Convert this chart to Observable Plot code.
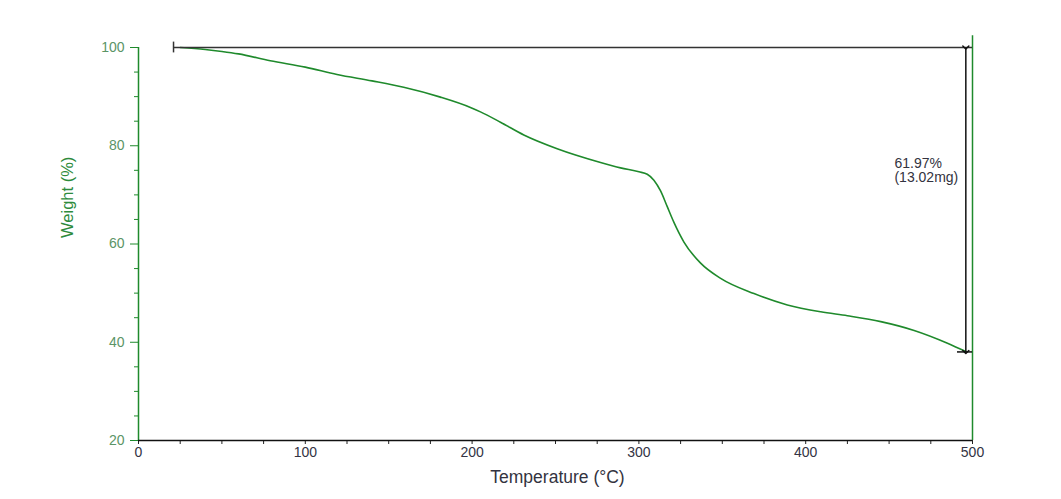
<!DOCTYPE html>
<html>
<head>
<meta charset="utf-8">
<script src="https://cdn.jsdelivr.net/npm/d3@7"></script>
<script src="https://cdn.jsdelivr.net/npm/@observablehq/plot@0.6"></script>
<style>
  html, body { margin: 0; padding: 0; background: #fff; }
</style>
</head>
<body>
<div id="chart"></div>
<script>
// Data
const temps   = [25, 40, 50, 60, 79, 100, 119, 140, 159, 181, 199, 205, 217, 231, 251, 277, 289, 300, 305, 309, 313, 317, 321, 327, 337, 349, 369, 389, 409, 425, 445, 465, 485, 496];
const weights = [100, 99.6, 99.2, 98.7, 97.3, 96.0, 94.5, 93.2, 91.9, 89.9, 87.8, 86.9, 84.8, 82.2, 79.4, 76.6, 75.5, 74.7, 74.2, 73.0, 70.8, 67.6, 64.4, 60.4, 56.1, 53.0, 49.9, 47.6, 46.2, 45.4, 44.2, 42.4, 39.8, 38.1];
const xMajor = [0, 100, 200, 300, 400, 500];
const yMajor = [20, 40, 60, 80, 100];
const startTemp = 21;
const markTemp = 496;
const startWeight = 100;
const endWeight = 38.03;
const annotation = ["61.97%", "(13.02mg)"];
const xLabel = "Temperature (°C)";
const yLabel = "Weight (%)";

const curve = temps.map((t, i) => ({t, w: weights[i]}));
const xMinor = d3.range(0, 501, 25).filter(v => !xMajor.includes(v));
const yMinor = d3.range(20, 101, 5).filter(v => !yMajor.includes(v));

const green = "#1f8a2c";
const labelGreen = "#5b9466";
const font = "'Liberation Sans', Arial, sans-serif";

const chart = Plot.plot({
  width: 1061,
  height: 499,
  marginLeft: 138,
  marginRight: 89,
  marginTop: 47,
  marginBottom: 59,
  style: {fontFamily: font, background: "#fff", overflow: "visible"},
  x: {domain: [0, 500]},
  y: {domain: [20, 100]},
  marks: [
    // y axis
    Plot.axisY({ticks: yMajor, tickSize: 8, tickPadding: 6, stroke: green, fill: labelGreen, fontSize: 14, label: null}),
    Plot.axisY({ticks: yMinor, tickSize: 4, stroke: green, text: null, label: null}),
    Plot.ruleX([0], {y1: 20, y2: 100, stroke: green, strokeWidth: 1.5}),
    // x axis
    Plot.axisX({ticks: xMajor, tickSize: 4, tickPadding: 3, stroke: "#222", fill: "#333344", fontSize: 14, label: null}),
    Plot.axisX({ticks: xMinor, tickSize: 4, stroke: "#222", text: null, label: null}),
    Plot.ruleY([20], {x1: 0, x2: 500, stroke: "#111", strokeWidth: 1.5}),
    // right green boundary
    Plot.ruleX([500], {y1: 20, y2: 102.4, stroke: green, strokeWidth: 1.5}),
    // curve
    Plot.line(curve, {x: "t", y: "w", stroke: green, strokeWidth: 1.6, curve: "monotone-x"}),
    // step annotation
    Plot.ruleY([startWeight], {x1: startTemp, x2: 500, stroke: "#333", strokeWidth: 1.5}),
    Plot.ruleX([startTemp], {y1: 101.1, y2: 98.9, stroke: "#333", strokeWidth: 1.5}),
    Plot.ruleY([endWeight], {x1: 491, x2: 500, stroke: "#111", strokeWidth: 1.5}),
    Plot.link([{x1: markTemp, y1: startWeight, x2: markTemp, y2: endWeight}], {
      x1: "x1", y1: "y1", x2: "x2", y2: "y2",
      stroke: "#111", strokeWidth: 1.5, markerStart: "arrow", markerEnd: "arrow"
    }),
    Plot.text([annotation[0]], {x: 453.2, y: 76.45, textAnchor: "start", fill: "#333340", fontSize: 14}),
    Plot.text([annotation[1]], {x: 453.2, y: 73.5, textAnchor: "start", fill: "#333340", fontSize: 14}),
    // axis titles
    Plot.text([xLabel], {x: 251.2, y: 12.47, fill: "#333340", fontSize: 17.5}),
    Plot.text([yLabel], {x: -42.6, y: 69.5, rotate: -90, fill: "#2e8b3c", fontSize: 16.5})
  ]
});
document.getElementById("chart").appendChild(chart);
</script>
</body>
</html>
